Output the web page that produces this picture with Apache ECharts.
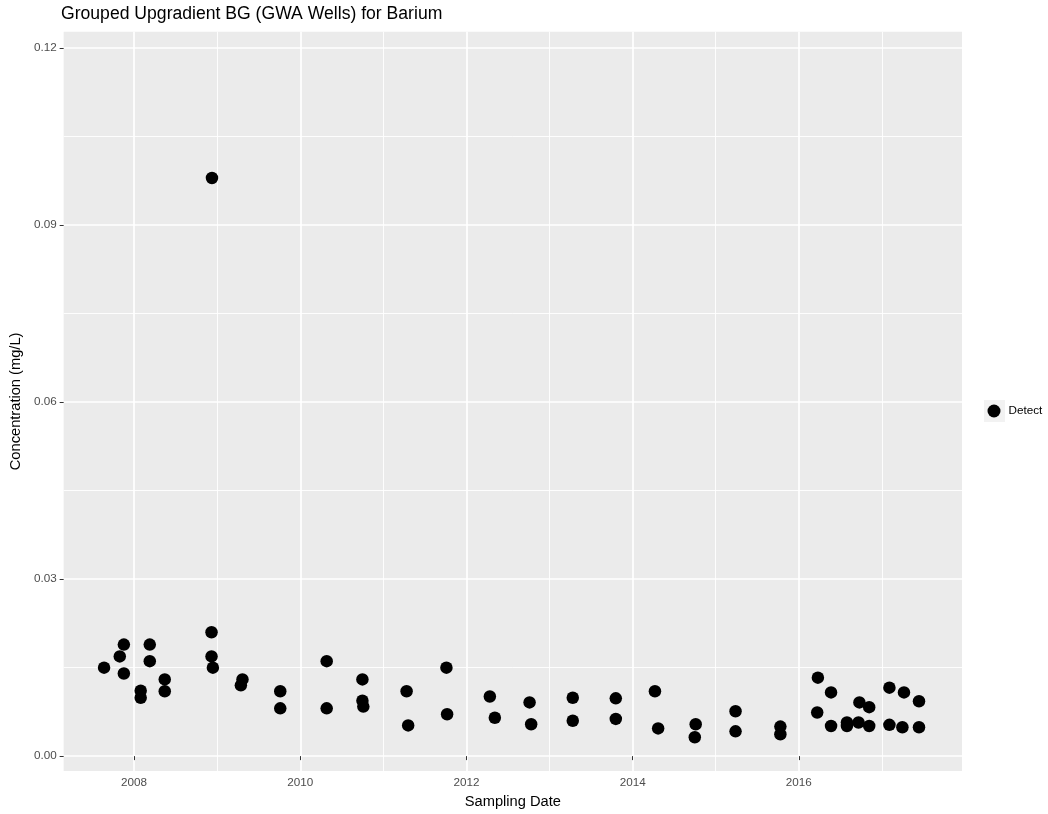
<!DOCTYPE html>
<html>
<head>
<meta charset="utf-8">
<title>Barium BG</title>
<script src="https://cdn.jsdelivr.net/npm/echarts@6/dist/echarts.min.js"></script>
<style>
  html, body { margin: 0; padding: 0; background: #ffffff; }
  #chart { width: 1048px; height: 814px; }
</style>
</head>
<body>
<div id="chart"></div>
<script>
// 采样日期与浓度 (mg/L)
const sampleDates = [
  '2007-08-22', '2007-10-30', '2007-11-17', '2007-11-17', '2008-01-30', '2008-01-30',
  '2008-03-10', '2008-03-10', '2008-05-15', '2008-05-15', '2008-12-07', '2008-12-07',
  '2008-12-13', '2008-12-09', '2009-04-22', '2009-04-15', '2009-10-05', '2009-10-05',
  '2010-04-27', '2010-04-27', '2010-10-01', '2010-10-01', '2010-10-05', '2011-04-13',
  '2011-04-20', '2011-10-05', '2011-10-08', '2012-04-13', '2012-05-05', '2012-10-05',
  '2012-10-12', '2013-04-13', '2013-04-13', '2013-10-19', '2013-10-19', '2014-04-09',
  '2014-04-23', '2014-10-05', '2014-10-01', '2015-03-29', '2015-03-29', '2015-10-12',
  '2015-10-12', '2016-03-25', '2016-03-22', '2016-05-22', '2016-05-22', '2016-07-31',
  '2016-07-31', '2016-09-24', '2016-09-20', '2016-11-06', '2016-11-06', '2017-02-03',
  '2017-02-03', '2017-04-08', '2017-04-01', '2017-06-13', '2017-06-13'
];
const concentrations = [
  0.0150, 0.0169, 0.0189, 0.0140, 0.0111, 0.0099,
  0.0189, 0.0161, 0.0130, 0.0110, 0.0210, 0.0169,
  0.0150, 0.0980, 0.0130, 0.0120, 0.0110, 0.0081,
  0.0161, 0.0081, 0.0130, 0.0094, 0.0084, 0.0110,
  0.0052, 0.0150, 0.0071, 0.0101, 0.0065, 0.0091,
  0.0054, 0.0099, 0.0060, 0.0098, 0.0063, 0.0110,
  0.0047, 0.0054, 0.0032, 0.0076, 0.0042, 0.0050,
  0.0037, 0.0133, 0.0074, 0.0108, 0.0051, 0.0057,
  0.0051, 0.0091, 0.0057, 0.0083, 0.0051, 0.0116,
  0.0053, 0.0108, 0.0049, 0.0093, 0.0049
];

// 刻度
const yearTicks = [2008, 2010, 2012, 2014, 2016];
const yearMinorTicks = [2009, 2011, 2013, 2015, 2017];
const concTicks = [0, 0.03, 0.06, 0.09, 0.12];
const concMinorTicks = [0.015, 0.045, 0.075, 0.105];

// 日期 -> 小数年份
function toYear(str) {
  const p = str.split('-').map(Number);
  const start = Date.UTC(p[0], 0, 1);
  const end = Date.UTC(p[0] + 1, 0, 1);
  return p[0] + (Date.UTC(p[0], p[1] - 1, p[2]) - start) / (end - start);
}

const points = sampleDates.map((d, i) => [toYear(d), concentrations[i]]);

const FONT = '"Liberation Sans", Arial, sans-serif';
const xMin = 2007.152, xMax = 2017.964;
const yMin = -0.00254, yMax = 0.1228;

const myChart = echarts.init(document.getElementById('chart'));

var option = {
  animation: false,
  backgroundColor: '#ffffff',
  title: {
    text: 'Grouped Upgradient BG (GWA Wells) for Barium',
    left: 61,
    top: 5,
    padding: 0,
    textStyle: { fontFamily: FONT, fontSize: 17.6, fontWeight: 'normal', color: '#000000' }
  },
  legend: {
    data: ['Detect'],
    left: 987.5,
    top: 404.5,
    padding: 0,
    icon: 'circle',
    itemWidth: 13,
    itemHeight: 13,
    textStyle: { fontFamily: FONT, fontSize: 11.7, color: '#000000', padding: [0, 0, 0, 3] }
  },
  graphic: [{
    // 图例键背景
    type: 'rect',
    z: -1,
    shape: { x: 984, y: 400, width: 21, height: 22 },
    style: { fill: '#f2f2f2' }
  }],
  grid: {
    left: 61,
    right: 86,
    top: 31.7,
    bottom: 41.3,
    show: true,
    backgroundColor: '#ebebeb',
    borderWidth: 0
  },
  xAxis: [
    {
      type: 'value',
      min: xMin,
      max: xMax,
      name: 'Sampling Date',
      nameLocation: 'middle',
      nameGap: 20,
      nameTextStyle: { fontFamily: FONT, fontSize: 14.67, color: '#000000' },
      axisLine: { show: false },
      axisTick: { show: true, length: 4, customValues: yearTicks, lineStyle: { color: '#333333', width: 1 } },
      axisLabel: {
        customValues: yearTicks,
        margin: 6,
        fontFamily: FONT, fontSize: 11.7, color: '#4d4d4d',
        formatter: v => String(Math.round(v))
      },
      splitLine: { show: true, lineStyle: { color: '#ffffff', width: 1.7 } }
    },
    {
      // 次网格线
      type: 'value',
      min: xMin,
      max: xMax,
      axisLine: { show: false },
      axisTick: { show: false, customValues: yearMinorTicks },
      axisLabel: { show: false, customValues: yearMinorTicks },
      splitLine: { show: true, lineStyle: { color: '#ffffff', width: 0.9 } }
    }
  ],
  yAxis: [
    {
      type: 'value',
      min: yMin,
      max: yMax,
      name: 'Concentration (mg/L)',
      nameLocation: 'middle',
      nameGap: 38,
      nameTextStyle: { fontFamily: FONT, fontSize: 14.67, color: '#000000' },
      axisLine: { show: false },
      axisTick: { show: true, length: 4, customValues: concTicks, lineStyle: { color: '#333333', width: 1 } },
      axisLabel: {
        customValues: concTicks,
        margin: 7,
        fontFamily: FONT, fontSize: 11.7, color: '#4d4d4d',
        formatter: v => v.toFixed(2)
      },
      splitLine: { show: true, lineStyle: { color: '#ffffff', width: 1.7 } }
    },
    {
      type: 'value',
      min: yMin,
      max: yMax,
      axisLine: { show: false },
      axisTick: { show: false, customValues: concMinorTicks },
      axisLabel: { show: false, customValues: concMinorTicks },
      splitLine: { show: true, lineStyle: { color: '#ffffff', width: 0.9 } }
    }
  ],
  series: [
    {
      name: 'Detect',
      type: 'scatter',
      data: points,
      symbol: 'circle',
      symbolSize: 12.5,
      itemStyle: { color: '#000000', opacity: 1 }
    }
  ]
};

myChart.setOption(option);
</script>
</body>
</html>
